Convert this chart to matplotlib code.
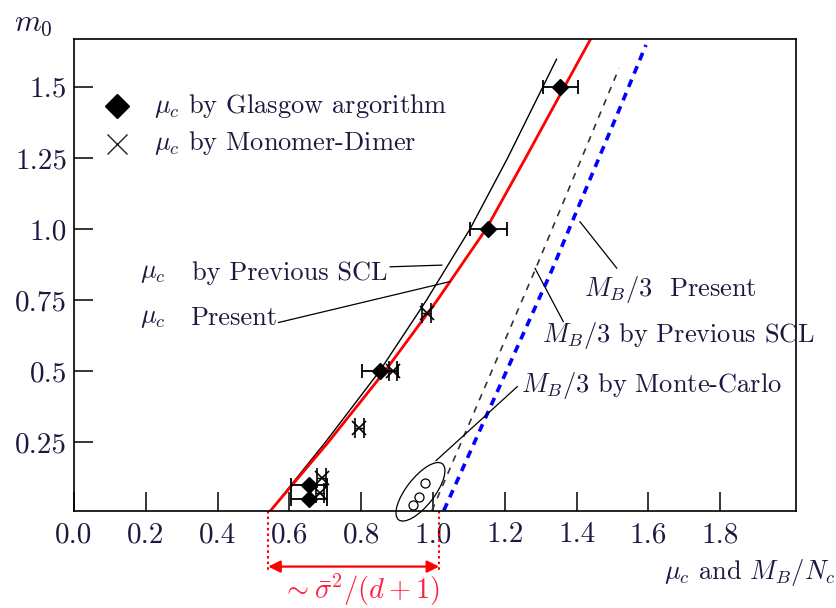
import matplotlib
matplotlib.use('Agg')
import matplotlib.pyplot as plt
from matplotlib.patches import Ellipse
from matplotlib.transforms import ScaledTranslation

plt.rcParams['font.family'] = 'cmr10'
plt.rcParams['mathtext.fontset'] = 'cm'
plt.rcParams['axes.unicode_minus'] = False

TXT = '#1a1a40'

# ---------------- data ----------------
# mu_c Present (red solid)
present_m0 = [0.0, 0.25, 0.5, 0.75, 1.0, 1.25, 1.5, 1.668]
present_mu = [0.541, 0.708, 0.866, 1.012, 1.148, 1.258, 1.366, 1.439]
# mu_c by previous SCL (black thin solid)
prev_m0 = [0.0, 0.25, 0.5, 0.75, 1.0, 1.25, 1.5, 1.597]
prev_mu = [0.541, 0.700, 0.851, 0.982, 1.103, 1.208, 1.306, 1.344]
# M_B/3 by previous SCL (black dashed)
mb_prev_m0 = [0.01, 0.855, 1.565]
mb_prev_x = [0.997, 1.284, 1.518]
# M_B/3 present (blue dashed)
mb_pres_m0 = [0.01, 0.855, 1.454, 1.647]
mb_pres_x = [1.030, 1.331, 1.530, 1.593]
# Glasgow algorithm
glas_mu = [1.355, 1.154, 0.852, 0.655, 0.655]
glas_m0 = [1.5, 1.0, 0.5, 0.1, 0.05]
glas_err = [0.05, 0.052, 0.05, 0.05, 0.05]
# Monomer-Dimer
md_mu = [0.982, 0.889, 0.795, 0.690, 0.685]
md_m0 = [0.704, 0.502, 0.299, 0.125, 0.07]
md_err = [0.012, 0.012, 0.012, 0.012, 0.012]
# Monte-Carlo
mc_x = [0.977, 0.960, 0.944]
mc_y = [0.107, 0.058, 0.030]

xticks = [0.0, 0.2, 0.4, 0.6, 0.8, 1.0, 1.2, 1.4, 1.6, 1.8]
xticklabels = ['0.0', '0.2', '0.4', '0.6', '0.8', '1.0', '1.2', '1.4', '1.6', '1.8']
yticks = [0.25, 0.5, 0.75, 1.0, 1.25, 1.5]
yticklabels = ['0.25', '0.5', '0.75', '1.0', '1.25', '1.5']

# ---------------- figure ----------------
fig = plt.figure(figsize=(8.37, 6.08), dpi=100)
ax = fig.add_axes([74/837, 1-510.7/608, (796-74)/837, (510.7-39)/608])

ax.plot(prev_mu, prev_m0, color='k', lw=1.0)
ax.plot(present_mu, present_m0, color='#ff0000', lw=2.0)
ax.plot(mb_prev_x, mb_prev_m0, color='#333333', lw=1.2, dashes=(4, 4))
ax.plot(mb_pres_x, mb_pres_m0, color='#0000ff', lw=2.6, dashes=(2.2, 1.8))

ax.errorbar(glas_mu, glas_m0, xerr=glas_err, fmt='D', color='k', ms=8,
            capsize=5, elinewidth=1.3, capthick=1.3)
ax.errorbar(md_mu, md_m0, xerr=md_err, fmt='x', color='k', ms=10, mew=1.2,
            capsize=7, elinewidth=1.0, capthick=1.2)
ax.plot(mc_x, mc_y, 'o', mfc='none', mec='k', ms=6.5, mew=0.9, clip_on=False)

# ellipse around Monte-Carlo points
ell = Ellipse((0, 0), width=0.71, height=0.28, angle=52,
              transform=fig.dpi_scale_trans + ScaledTranslation(0.965, 0.076, ax.transData),
              fill=False, ec='k', lw=0.9, clip_on=False)
ax.add_patch(ell)

FS = 19
# legend (manual)
ax.plot([0.119], [1.433], 'D', color='k', ms=12)
ax.plot([0.119], [1.299], 'x', color='#222222', ms=15, mew=1.0)
ax.text(0.223, 1.433, r'$\mu_c$ by Glasgow argorithm', fontsize=FS, color=TXT,
        va='center')
ax.text(0.223, 1.303, r'$\mu_c$ by Monomer-Dimer', fontsize=FS, color=TXT,
        va='center')

# annotations
ax.text(0.184, 0.845, r'$\mu_c$', fontsize=FS, color=TXT, va='center')
ax.text(0.328, 0.845, 'by Previous SCL', fontsize=FS, color=TXT, va='center')
ax.text(0.184, 0.687, r'$\mu_c$', fontsize=FS, color=TXT, va='center')
ax.text(0.323, 0.687, 'Present', fontsize=FS, color=TXT, va='center')
ax.text(1.420, 0.786, r'$M_B/3$  Present', fontsize=FS, color=TXT, va='center')
ax.text(1.303, 0.627, r'$M_B/3$ by Previous SCL', fontsize=FS, color=TXT, va='center')
ax.text(1.245, 0.451, r'$M_B/3$ by Monte-Carlo', fontsize=FS, color=TXT, va='center')

lp = dict(arrowstyle='-', color='k', lw=0.9, shrinkA=0, shrinkB=0)
ax.annotate('', xy=(1.025, 0.873), xytext=(0.880, 0.867), arrowprops=lp)
ax.annotate('', xy=(1.047, 0.815), xytext=(0.569, 0.671), arrowprops=lp)
ax.annotate('', xy=(1.409, 1.026), xytext=(1.512, 0.862), arrowprops=lp)
ax.annotate('', xy=(1.284, 0.862), xytext=(1.363, 0.674), arrowprops=lp)
ax.annotate('', xy=(1.008, 0.185), xytext=(1.235, 0.446), arrowprops=lp)

# red width indicator
for xv in (0.541, 1.017):
    ax.plot([xv, xv], [0.01, -0.206], ls=(0, (1.2, 1.5)), color='#ff0000', lw=1.5,
            clip_on=False)
ax.annotate('', xy=(0.541, -0.187), xytext=(1.017, -0.187),
            arrowprops=dict(arrowstyle='<|-|>', color='#ff0000', lw=1.6,
                            mutation_scale=18, shrinkA=0, shrinkB=0),
            annotation_clip=False)
ax.text(0.80, -0.27, r'$\sim\bar{\sigma}^2/(d+1)$', color='#ff2040', fontsize=20.5,
        ha='center', va='center', clip_on=False)

ax.set_xlim(0, 2.011)
ax.set_ylim(0.0095, 1.668)
ax.set_xticks(xticks)
ax.set_xticklabels(xticklabels)
ax.set_yticks(yticks)
ax.set_yticklabels(yticklabels)
ax.tick_params(direction='in', length=13.5, width=1.1, labelsize=21,
               labelcolor=TXT, top=False, right=False)
ax.tick_params(axis='x', pad=8)
ax.tick_params(axis='y', pad=5)
for s in ax.spines.values():
    s.set_linewidth(1.2)

fig.text(33/837, 1-24/608, r'$m_0$', fontsize=22, color=TXT, ha='center', va='center')
fig.text(835/837, 1-573/608, r'$\mu_c$ and $M_B/N_c$', fontsize=FS, color=TXT,
         ha='right', va='center')

fig.savefig('out.png', dpi=100)
